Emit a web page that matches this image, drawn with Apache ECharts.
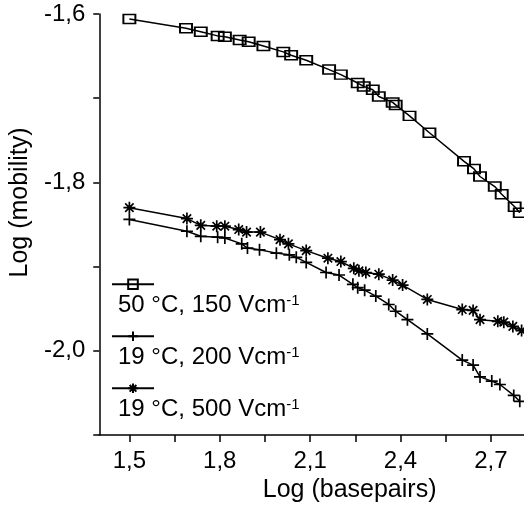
<!DOCTYPE html>
<html>
<head>
<meta charset="utf-8">
<script src="https://cdn.jsdelivr.net/npm/echarts@6/dist/echarts.min.js"></script>
<style>
  html, body { margin: 0; padding: 0; background: #fff; }
  #chart { width: 524px; height: 510px; }
</style>
</head>
<body>
<div id="chart"></div>
<script>
// data: x = log(basepairs), y = log(mobility)
var sqX = [1.5, 1.688, 1.737, 1.793, 1.817, 1.866, 1.896, 1.945, 2.011, 2.037, 2.087, 2.163, 2.202, 2.258, 2.278, 2.308, 2.328, 2.374, 2.384, 2.43, 2.496, 2.611, 2.644, 2.664, 2.713, 2.736, 2.779, 2.796];
var sqY = [-1.606, -1.617, -1.621, -1.626, -1.627, -1.631, -1.633, -1.638, -1.645, -1.649, -1.655, -1.666, -1.672, -1.682, -1.686, -1.69, -1.698, -1.705, -1.708, -1.721, -1.741, -1.775, -1.784, -1.793, -1.805, -1.814, -1.829, -1.836];

var plusX = [1.5, 1.691, 1.737, 1.793, 1.817, 1.873, 1.892, 1.932, 1.988, 2.031, 2.054, 2.087, 2.153, 2.196, 2.242, 2.258, 2.281, 2.318, 2.361, 2.384, 2.423, 2.489, 2.605, 2.641, 2.664, 2.703, 2.73, 2.776, 2.796];
var plusY = [-1.844, -1.858, -1.864, -1.865, -1.866, -1.873, -1.878, -1.88, -1.884, -1.886, -1.889, -1.895, -1.907, -1.91, -1.921, -1.925, -1.928, -1.935, -1.945, -1.953, -1.963, -1.98, -2.011, -2.017, -2.031, -2.036, -2.04, -2.053, -2.06];

var starX = [1.5, 1.691, 1.737, 1.79, 1.817, 1.863, 1.889, 1.935, 2.0, 2.028, 2.087, 2.159, 2.202, 2.245, 2.262, 2.285, 2.328, 2.374, 2.407, 2.489, 2.605, 2.641, 2.664, 2.723, 2.743, 2.773, 2.802];
var starY = [-1.83, -1.843, -1.851, -1.852, -1.852, -1.856, -1.859, -1.859, -1.868, -1.873, -1.881, -1.89, -1.894, -1.902, -1.905, -1.907, -1.909, -1.916, -1.922, -1.939, -1.951, -1.952, -1.963, -1.965, -1.966, -1.971, -1.976];

var seriesNames = ['50 °C, 150 Vcm', '19 °C, 200 Vcm', '19 °C, 500 Vcm'];
var xTicks = [1.5, 1.65, 1.8, 1.95, 2.1, 2.25, 2.4, 2.55, 2.7];
var xLabels = [1.5, 1.8, 2.1, 2.4, 2.7];
var yLabels = [-1.6, -1.8, -2.0];

var FONT = '"Liberation Sans", Arial, sans-serif';

function pairs(xs, ys) {
  var out = [];
  for (var i = 0; i < xs.length; i++) out.push([xs[i], ys[i]]);
  return out;
}
function comma(v) {
  return v.toFixed(1).replace('.', ',');
}

var plusPath = 'path://M0,5L10,5M5,0L5,10';
var starPath = 'path://M0,5L10,5M5,0L5,10M1.5,1.5L8.5,8.5M8.5,1.5L1.5,8.5';

function lineSeries(name, data, symbol, size) {
  return {
    name: name,
    type: 'line',
    data: data,
    symbol: symbol,
    symbolSize: size,
    showSymbol: true,
    animation: false,
    lineStyle: { color: '#000', width: 1.5 },
    itemStyle: { color: 'none', borderColor: '#000', borderWidth: 1.7 },
    z: 3
  };
}

function legendFor(name, top) {
  return {
    data: [name],
    left: 106,
    top: top,
    orient: 'vertical',
    itemWidth: 42,
    itemHeight: 12,
    selectedMode: false,
    formatter: function () { return ''; },
    textStyle: { fontSize: 10 }
  };
}

function legendText(str, y) {
  return {
    type: 'text',
    left: 118,
    top: y,
    style: {
      text: '{a|' + str + '}{b|-1}',
      rich: {
        a: { fontFamily: FONT, fontSize: 24, color: '#000' },
        b: { fontFamily: FONT, fontSize: 15, color: '#000', verticalAlign: 'top', padding: [0, 0, 10, 0] }
      }
    }
  };
}

var chart = echarts.init(document.getElementById('chart'), null, { renderer: 'canvas' });

var option = {
  backgroundColor: '#fff',
  animation: false,
  grid: { left: 96, right: 0, top: 14, bottom: 75, containLabel: false },
  legend: [
    legendFor(seriesNames[0], 272),
    legendFor(seriesNames[1], 324),
    legendFor(seriesNames[2], 376)
  ],
  graphic: [
    legendText(seriesNames[0], 293),
    legendText(seriesNames[1], 345),
    legendText(seriesNames[2], 397)
  ],
  xAxis: {
    type: 'value',
    min: 1.4,
    max: 2.81,
    name: 'Log (basepairs)',
    nameLocation: 'middle',
    nameGap: 38,
    nameTextStyle: { fontFamily: FONT, fontSize: 25, color: '#000', padding: [0, 0, 0, 76] },
    axisLine: { show: true, lineStyle: { color: '#000', width: 1.5 } },
    axisTick: { show: true, inside: false, length: 7, customValues: xTicks, lineStyle: { color: '#000', width: 1.5 } },
    axisLabel: {
      customValues: xLabels,
      margin: 14,
      fontFamily: FONT,
      fontSize: 24,
      color: '#000',
      formatter: comma
    },
    splitLine: { show: false }
  },
  yAxis: {
    type: 'value',
    min: -2.1,
    max: -1.6,
    interval: 0.1,
    name: 'Log (mobility)',
    nameLocation: 'middle',
    nameRotate: 90,
    nameGap: 60,
    nameTextStyle: { fontFamily: FONT, fontSize: 25, color: '#000', padding: [0, 0, 0, 44] },
    axisLine: { show: true, lineStyle: { color: '#000', width: 1.5 } },
    axisTick: { show: true, inside: false, length: 6, lineStyle: { color: '#000', width: 1.5 } },
    axisLabel: {
      customValues: yLabels,
      margin: 14,
      fontFamily: FONT,
      fontSize: 24,
      color: '#000',
      formatter: comma
    },
    splitLine: { show: false }
  },
  series: [
    lineSeries(seriesNames[0], pairs(sqX, sqY), 'rect', [12, 9]),
    lineSeries(seriesNames[1], pairs(plusX, plusY), plusPath, 12),
    lineSeries(seriesNames[2], pairs(starX, starY), starPath, 12)
  ]
};

chart.setOption(option);
</script>
</body>
</html>
